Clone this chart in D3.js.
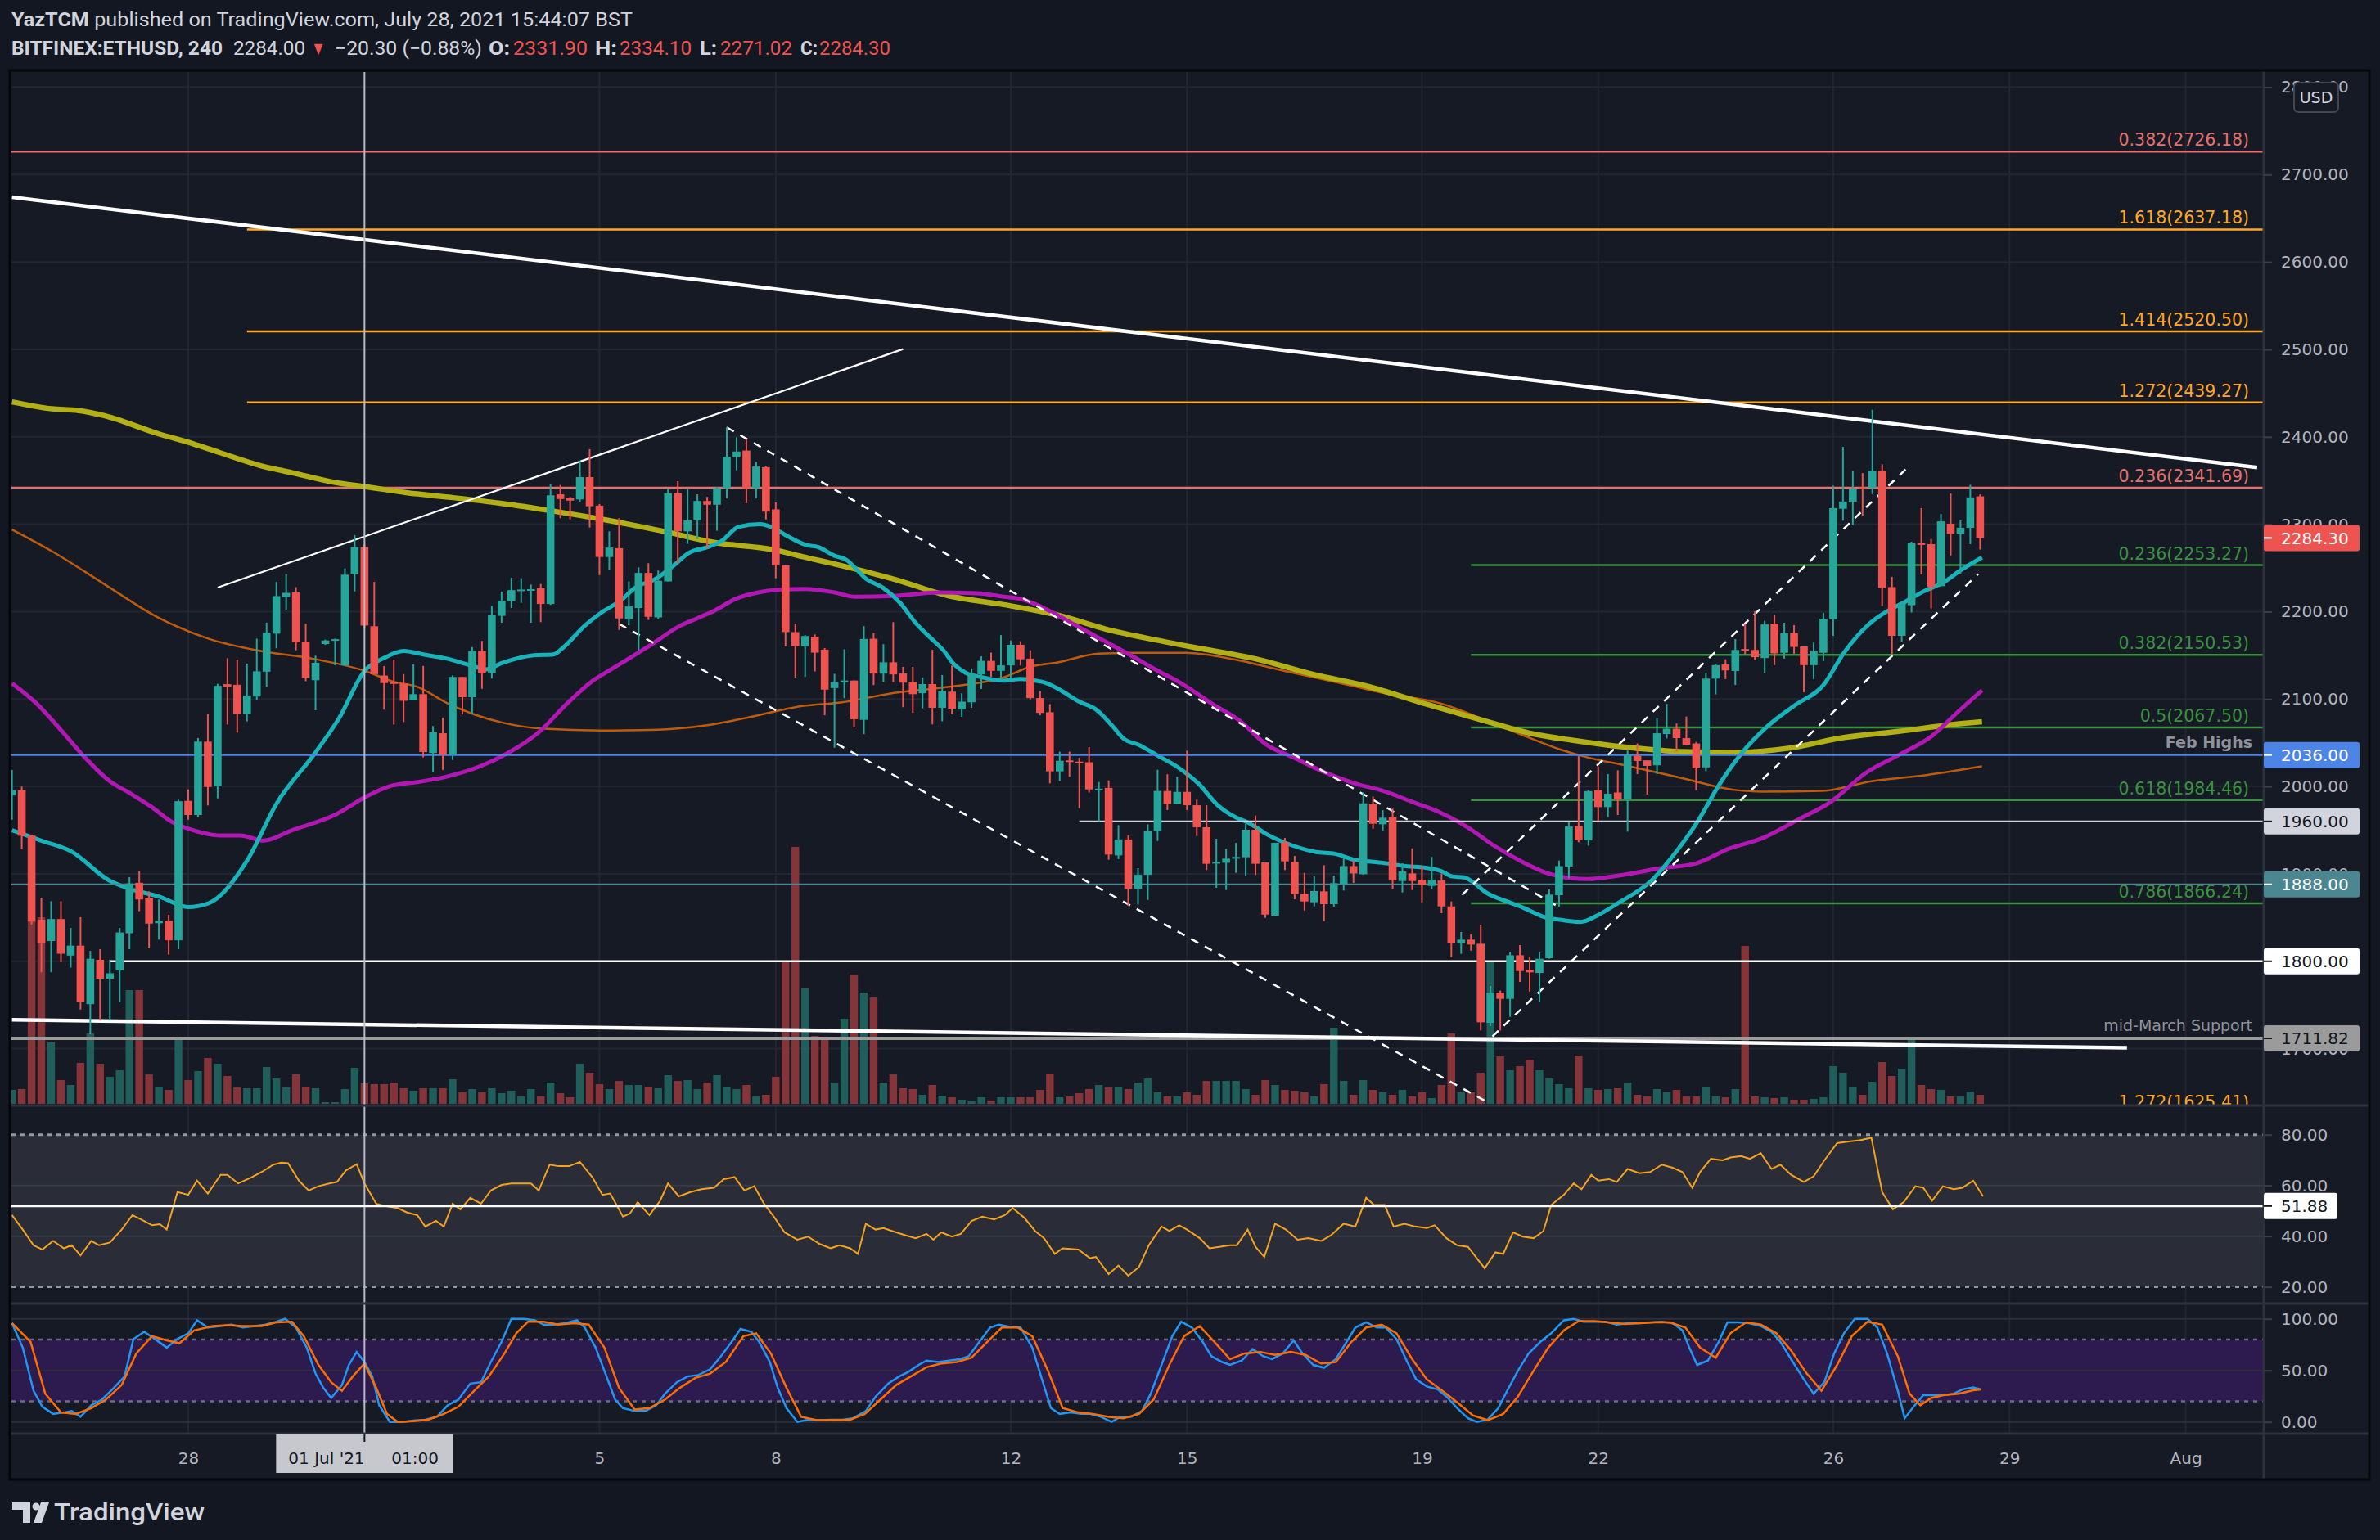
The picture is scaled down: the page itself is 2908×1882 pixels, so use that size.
<!DOCTYPE html>
<html>
<head>
<meta charset="utf-8">
<script src="https://cdn.jsdelivr.net/npm/d3@7"></script>
<style>
  body { margin: 0; background: #131722; }
  svg { display: block; }
</style>
</head>
<body>
<svg id="chart"></svg>
<script>
// ---- data ----

// 4h candles from 25 Jun 2021, [open, high, low, close]
const candles = [
[1989.6,2018.9,1962,1995.7],[1995.7,1999.8,1928.3,1943.7],[1943.7,1945,1842,1845.1],[1847.5,1872.7,1787.4,1820.7],
[1823.2,1868.6,1787.4,1848.3],[1848.3,1868.6,1798.8,1808.6],[1806.5,1838.2,1792.7,1817.9],[1817.9,1850.4,1744.8,1753.7],
[1750.9,1811.8,1716.4,1802.9],[1801.7,1813.8,1732.6,1780.1],[1780.1,1801.7,1732.6,1786.2],[1789.5,1838.2,1753,1832.9],
[1832.1,1896.3,1813.8,1889.0],[1889.8,1903.2,1857.3,1870.7],[1872.7,1880.0,1815.0,1843.1],[1843.5,1870.7,1824.8,1846.3],
[1846.3,1853.2,1807.7,1824.0],[1824.0,1984.8,1813.8,1983.1],[1983.5,1996.5,1962.0,1967.3],[1967.3,2055.4,1965.3,2051.3],
[2051.3,2083.0,1978.3,1999.4],[2000.2,2117.5,1986.4,2115.1],[2117,2146.7,2070.8,2114],[2116.3,2144.7,2061.5,2083.0],
[2083.0,2140.6,2074.5,2104.1],[2102.9,2169.1,2098.8,2131.7],[2131.3,2187.4,2114.3,2176.0],[2174.8,2234.0,2158.1,2217.8],
[2216.6,2243.0,2202.4,2221.5],[2221.9,2228.0,2155.7,2165.0],[2165.8,2186.1,2120.4,2124.4],[2121.6,2149.6,2087.1,2141.5],
[2163,2168,2162,2167],[2167.8,2169.1,2138.6,2168.5],[2138.6,2249.5,2137.8,2242.2],[2243.4,2287.6,2223.1,2273.8],
[2273.8,2276.7,2181.3,2184.1],[2183.3,2234.0,2128.5,2128.5],[2126.9,2137.8,2087.9,2118.3],[2119.2,2144.7,2070.8,2118.0],
[2117.5,2128.5,2073.7,2098.0],[2098.5,2139.7,2098.5,2105.6],[2105.6,2137.9,2033.3,2039.4],[2038.3,2069.1,2016.1,2062.0],
[2060.9,2078.8,2018.9,2036.5],[2036.5,2127.1,2030.4,2125.3],[2125.3,2125.3,2082.4,2102.1],[2102.1,2159.4,2082.4,2155.0],
[2155.0,2166.5,2111.7,2129.6],[2129.6,2206.6,2123.5,2195.9],[2195.2,2222.8,2187.3,2212.4],[2212.0,2238.9,2204.1,2224.6],
[2224.6,2238.2,2210.2,2225.3],[2225.3,2231.0,2187.3,2225.7],[2226.7,2231.7,2188.0,2208.8],[2208.8,2345.6,2207.7,2333.1],
[2334.2,2344.9,2306.9,2328.8],[2330.2,2331.3,2305.5,2327.0],[2328.4,2372.5,2325.9,2353.9],[2353.9,2385.8,2296.2,2320.6],
[2321.3,2323.1,2241.8,2262.5],[2262.5,2291.9,2248.2,2273.3],[2272.6,2306.9,2179.1,2192.3],[2191.6,2234.6,2184.4,2205.9],
[2204.1,2250.7,2155.8,2244.3],[2244.3,2255.4,2190.5,2194.1],[2193.4,2247.1,2191.6,2235.3],[2234.6,2340.3,2234.6,2335.6],
[2335.6,2349.2,2255.4,2291.9],[2291.9,2340.3,2277.6,2304.4],[2304.4,2334.2,2282.9,2326.6],[2326.6,2331.3,2272.2,2322.3],
[2322.3,2342.8,2292.6,2341.3],[2341.3,2410.8,2329.5,2377.2],[2377.2,2399.4,2361.8,2383.2],[2384.3,2397.6,2324.1,2341.3],
[2341.3,2371.4,2329.5,2366.0],[2365.3,2366.4,2305.5,2314.5],[2317.0,2324.9,2238.2,2253.2],[2253.2,2253.2,2160.1,2176.6],
[2176.6,2186.2,2124.6,2160.4],[2160.4,2173.2,2125.4,2172.1],[2171.4,2173.9,2131.6,2153.1],[2156.5,2158.3,2081.4,2110.8],
[2112.6,2128.8,2044.3,2119.5],[2119.5,2156.9,2101.1,2121.2],[2121.2,2121.2,2067.5,2076.9],[2076.2,2183.5,2059.9,2168.7],
[2169.0,2175.6,2116.0,2129.2],[2129.2,2162.8,2119.5,2142.0],[2142.0,2188.0,2119.5,2128.2],[2129.2,2136.8,2090.7,2118.8],
[2119.5,2136.8,2084.2,2105.6],[2106.7,2124.7,2089.4,2117.1],[2117.1,2156.5,2071.0,2090.0],[2090.0,2127.4,2074.5,2109.1],
[2108.4,2138.5,2082.4,2089.0],[2088.3,2106.7,2079.7,2097.0],[2096.3,2135.1,2090.0,2128.8],[2128.2,2148.9,2111.5,2143.7],
[2143.7,2153.1,2125.4,2132.3],[2132.3,2173.2,2121.9,2138.5],[2138.5,2166.9,2124.7,2162.1],[2162.1,2166.2,2138.5,2145.5],
[2146.2,2155.8,2099.7,2101.1],[2101.1,2109.1,2081.4,2084.2],[2084.9,2094.2,2003.5,2017.3],[2017.3,2039.8,2006.2,2029.4],
[2029.8,2039.8,2011.1,2028.0],[2028.4,2032.9,1975.1,2027.0],[2027.7,2045.0,1993.1,1996.6],[1997.3,2005.2,1960.2,1997.5],
[1998.3,2006.9,1916.2,1922.1],[1921.1,1955.7,1916.9,1939.4],[1939.4,1943.9,1863.2,1883.0],[1883.0,1906.5,1865.0,1898.9],
[1898.9,1956.7,1870.2,1948.8],[1948.8,2019.1,1937.7,1994.8],[1994.8,2013.9,1973.0,1979.9],[1979.9,2011.1,1979.9,1993.8],
[1993.8,2040.9,1973.0,1978.5],[1978.5,1984.8,1943.3,1953.3],[1953.3,1978.5,1904.3,1911.5],[1912.1,1940.2,1884.0,1913.6],
[1912.7,1928.6,1881.5,1917.4],[1917.4,1935.5,1901.2,1919.3],[1919.0,1957.3,1897.4,1950.5],[1950.5,1966.7,1898.7,1911.5],
[1913.0,1913.0,1849.7,1853.4],[1852.2,1935.5,1851.2,1935.5],[1936.1,1941.1,1904.3,1914.3],[1913.6,1920.5,1870.9,1876.8],
[1877.1,1901.2,1858.1,1868.4],[1867.5,1897.1,1862.8,1880.3],[1880.0,1909.9,1845.9,1865.3],[1865.3,1898.0,1862.2,1889.3],
[1888.7,1918.3,1880.9,1908.9],[1908.9,1915.2,1889.6,1900.5],[1899.6,1993.2,1899.0,1980.7],[1980.1,1988.5,1951.7,1957.3],
[1956.7,1972.9,1949.5,1964.2],[1965.1,1974.5,1882.4,1892.4],[1891.8,1912.1,1878.7,1902.7],[1900.5,1929.2,1881.5,1891.8],
[1893.4,1908.9,1867.5,1887.1],[1886.2,1919.3,1882.4,1893.4],[1892.4,1900.5,1855.0,1862.8],[1862.8,1868.4,1804.4,1820.7],
[1820.7,1833.5,1808.5,1824.7],[1824.7,1831.0,1812.2,1819.1],[1820.0,1841.9,1720.8,1730.2],[1729.6,1771.7,1725.8,1763.9],
[1763.9,1766.4,1720.8,1757.0],[1757.0,1810.7,1736.4,1806.9],[1806.9,1818.5,1776.4,1788.8],[1790.4,1805.1,1765.4,1787.3],
[1786.6,1810.1,1753.9,1802.9],[1803.5,1882.4,1802.9,1876.2],[1875.6,1915.2,1862.2,1908.9],[1908.3,1958.9,1894.9,1954.2],
[1954.8,2034.7,1936.1,1938.6],[1938.3,1995.7,1932.2,1994.7],[1995.7,2022.5,1960.6,1976.4],[1976.4,2014.1,1965.0,1991.7],
[1993.1,2018.5,1967.3,1985.1],[1985.1,2042.6,1948.3,2035.9],[2035.2,2049.2,2014.1,2029.2],[2029.9,2029.9,1990.7,2023.5],
[2024.2,2078.3,2014.1,2060.9],[2060.0,2094.4,2055.0,2066.0],[2066.0,2072.0,2039.9,2055.3],[2055.3,2080.0,2046.9,2047.6],
[2049.2,2050.9,1995.7,2020.8],[2021.8,2130.1,2017.5,2123.4],[2123.4,2139.5,2105.4,2138.8],[2139.5,2145.5,2122.8,2132.8],
[2132.1,2168.6,2116.1,2156.2],[2157.2,2186.3,2151.2,2156.2],[2156.2,2200.3,2144.5,2147.9],[2146.9,2189.6,2129.5,2185.3],
[2186.3,2196.3,2138.8,2152.2],[2152.9,2187.3,2146.2,2175.3],[2175.6,2184.6,2151.9,2159.6],[2160.2,2160.2,2107.7,2138.8],
[2138.8,2164.6,2122.8,2154.5],[2152.9,2198.7,2143.5,2192.0],[2191.3,2344.1,2172.3,2318.4],[2317.7,2388.6,2304.0,2326.0],
[2325.7,2360.8,2299.0,2340.1],[2342.4,2358.5,2309.3,2341.4],[2341.7,2431.0,2334.4,2361.1],[2361.1,2368.5,2206.4,2227.1],
[2228.1,2239.8,2151.2,2172.3],[2172.3,2211.4,2165.2,2209.0],[2207.4,2280.0,2199.0,2278.2],[2278.2,2318.4,2242.5,2277.2],
[2277.2,2283.2,2203.7,2228.1],[2229.1,2311.7,2229.1,2303.3],[2300.6,2335.1,2264.2,2289.0],[2289.0,2304.3,2243.1,2296.0],
[2295.9,2345.1,2277.2,2330.7],[2331.9,2334.1,2271.02,2284.3]
];

// volume per candle (relative units)
const volumes = [
17,18,222,228,75,29,23,50,86,49,33,41,139,139,36,21,17,78,29,40,
56,49,34,20,19,19,45,31,20,36,21,19,2,2,18,44,25,24,24,26,
19,16,19,19,19,30,14,18,14,19,13,16,9,18,9,26,13,8,49,38,
24,18,28,23,23,21,19,35,28,29,18,26,35,21,18,23,9,11,33,174,
314,141,83,78,26,104,158,136,130,26,36,19,18,11,23,10,8,5,4,8,
4,8,8,8,8,17,37,8,9,13,18,23,20,21,18,26,31,14,9,9,
14,11,28,28,28,28,18,11,29,23,17,16,14,9,24,93,28,11,29,17,
14,11,17,9,14,7,23,86,14,14,38,173,58,41,46,54,41,31,24,19,
59,19,17,18,19,26,11,9,18,14,17,9,9,21,9,8,18,193,9,8,
7,8,5,5,6,8,46,38,21,11,27,51,34,43,78,23,18,17,9,9,15,11
];

// moving averages, [candle index, price]
const maFast = [[0,1950],[3,1938],[6,1926],[10,1892],[12,1883],[15,1874],[18,1862],[20,1866],[24,1915],[27,1980],
[31,2039],[33.4,2078],[36,2132],[38,2147],[40,2155],[42,2151],[44.5,2146],[46.7,2139],[48.4,2134],[50,2141],[53.3,2150],
[55.3,2151],[56.3,2159],[58.5,2184],[60.2,2199],[62.2,2213],[63.6,2227],[65.8,2238],[67.5,2252],[69.1,2267],[71.1,2274],
[72.5,2281],[74.2,2297],[76.4,2300],[77.5,2297],[79.1,2287],[81.2,2276],[82.3,2274],[84,2264],[85.1,2260],[87.3,2237],
[89,2227],[90.7,2210],[92.3,2187],[94,2168],[95.1,2156],[96.2,2140],[97.4,2130],[99,2125],[101.3,2121],[103,2123],
[104,2122],[105.7,2118],[106.8,2112],[109,2097],[110.7,2088],[112.4,2069],[113.5,2055],[115.2,2047],[116.9,2036],
[119.2,2021],[121.2,2003],[123.1,1979],[125.1,1964],[126.2,1959],[128.2,1945],[130.9,1932],[133.2,1925],[135.1,1923],
[137.1,1916],[138.8,1914],[140.4,1912],[142.1,1909],[144.4,1907],[146,1903],[147.1,1897],[148.3,1896],[149.4,1889],
[150.5,1879],[152.8,1868],[154.4,1861],[156.4,1851],[158.4,1847],[160.2,1845],[162,1853],[164.1,1867],[167.4,1892],
[170,1926],[172.1,1959],[174.3,2001],[176.5,2036],[179.3,2069],[182.1,2093],[185,2116],[187.1,2153],[189.9,2188],
[191.6,2201],[193.3,2211],[195.2,2223],[197.2,2233],[199.1,2248],[201.2,2262]];

const maMid = [[0,2118],[2.5,2095],[5.2,2062],[7.3,2035],[10,2006],[12.1,1992],[14.2,1977],[16.4,1959],[18.5,1950],
[21.2,1944],[23.3,1944],[25.7,1938],[28.6,1950],[32.9,1967],[36.1,1988],[38.5,2000],[41.4,2005],[44.3,2011],[47.8,2023],
[50.6,2038],[53.9,2063],[56.7,2095],[59.2,2120],[61.2,2134],[63.4,2149],[65.4,2163],[68.1,2183],[70.1,2193],[71.7,2201],
[74,2215],[76.2,2222],[78.4,2225],[81,2226],[84,2222],[86.1,2217],[90.1,2218],[94.6,2222],[98.5,2221],[101.3,2217],
[103.2,2214],[105.4,2204],[108.2,2187],[111.3,2168],[114.1,2151],[116.9,2133],[119.1,2120],[120.8,2108],[122.5,2095],
[125.3,2076],[128.1,2048],[130.9,2033],[133.9,2017],[137,2004],[140,1995],[143.1,1982],[145.9,1970],[148.7,1953],
[151.4,1932],[154.2,1914],[157,1900],[159.2,1895],[160.9,1894],[164.1,1898],[168.1,1906],[172,1912],[175.4,1929],
[178.8,1941],[182.4,1962],[185.7,1982],[189.4,2016],[192.7,2036],[196.1,2058],[198.8,2086],[201.2,2110]];

const maSlow = [[0,2294],[4.1,2269],[9.5,2231],[14.8,2194],[20.1,2169],[25.4,2155],[30.8,2146],[36.1,2132],[38.9,2120],
[41.4,2114],[44.5,2095],[47.3,2082],[50.1,2073],[54.3,2066],[60.1,2064],[66,2065],[71,2070],[75.2,2079],[78,2086],
[80.7,2092],[84.6,2096],[90.1,2107],[95.7,2114],[101.3,2125],[104,2137],[106.8,2142],[111,2152],[115.2,2153],[119.9,2153],
[125,2145],[130,2132],[135,2120],[140,2107],[145.9,2095],[149.8,2079],[154,2060],[158.2,2042],[161,2033],[164.8,2024],
[170.4,2010],[176,1996],[178.8,1994],[184.9,1995],[189.9,2006],[195.5,2013],[201.2,2023]];

const maLong = [[0,2440],[4.1,2432],[6.8,2430],[9.5,2424],[14.8,2404],[18.5,2392],[21.2,2382],[25.4,2367],[28.6,2359],
[32.9,2348],[36.1,2343],[40.4,2336],[44.6,2331],[49.9,2324],[55.3,2315],[60.6,2305],[66.5,2292],[71.8,2279],[77.7,2271],
[80.7,2263],[84.6,2253],[90.1,2237],[95.7,2218],[101.3,2208],[106.8,2196],[112.4,2178],[118,2165],[120.8,2159],[127,2146],
[133,2128],[138.3,2115],[144.2,2095],[149.8,2077],[155.4,2060],[159.3,2053],[164.8,2045],[170.4,2040],[176,2039],
[181.6,2044],[187.1,2056],[192.7,2063],[198.3,2071],[201.2,2074]];

// RSI and Stoch RSI, [candle index, value]
const rsi = [[0.0,48.3],[1.1,42.6],[2.2,36.4],[3.1,34.7],[4.2,38.1],[5.3,35.2],[6.1,36.4],[7.0,32.4],[8.1,38.1],[8.9,36.4],
[10.0,37.5],[11.2,42.6],[12.3,48.3],[13.5,46.0],[14.3,44.3],[15.1,44.7],[15.8,42.6],[16.9,57.4],[18.0,56.3],[18.9,61.9],
[20.0,56.8],[21.3,64.2],[22.0,64.2],[23.1,60.8],[24.4,63.1],[25.5,65.3],[26.7,68.2],[27.5,69.0],[28.2,68.8],[29.3,61.9],
[30.3,58.0],[31.3,59.7],[32.4,60.8],[33.2,61.4],[34.1,65.9],[35.2,68.4],[36.0,60.8],[37.2,52.8],[38.3,51.7],[39.4,51.1],
[40.3,49.4],[41.4,48.3],[42.2,43.8],[43.3,46.0],[44.1,43.8],[45.0,52.8],[45.8,50.6],[46.8,55.1],[47.9,52.8],[48.9,58.0],
[50.0,60.2],[51.0,60.8],[52.3,60.8],[53.0,60.8],[53.8,58.0],[54.9,68.2],[55.8,67.6],[56.9,67.6],[58.0,69.3],[59.3,63.1],
[60.3,56.3],[61.1,56.8],[62.4,47.7],[63.1,48.9],[63.9,53.4],[65.1,48.3],[66.2,54.0],[67.0,60.8],[68.1,55.7],[69.3,57.4],
[70.4,58.5],[71.7,59.1],[72.7,62.5],[73.8,63.3],[74.8,58.0],[75.8,59.7],[76.8,52.8],[77.9,47.2],[78.9,41.5],[80.2,38.6],
[81.3,39.8],[82.5,36.9],[83.6,35.2],[84.5,36.4],[85.6,35.2],[86.4,33.0],[87.2,44.9],[88.2,42.6],[89.0,43.2],[90.3,41.5],
[91.3,40.3],[92.3,39.2],[93.4,40.9],[94.1,38.6],[94.9,41.5],[96.0,39.8],[96.9,40.9],[98.0,46.0],[99.1,47.7],[100.3,46.6],
[101.4,48.3],[102.2,51.1],[103.4,47.2],[104.5,42.0],[105.4,39.2],[106.5,33.0],[107.3,35.2],[108.9,34.7],[110.1,31.3],
[110.7,31.8],[112.0,25.0],[113.0,28.4],[114.0,24.4],[115.1,27.8],[116.1,36.4],[117.4,43.8],[118.2,42.0],[119.2,44.3],
[120.0,42.6],[121.3,39.2],[122.3,35.2],[123.3,35.8],[124.4,36.4],[125.1,36.4],[126.2,42.6],[127.0,35.8],[127.9,31.8],
[129.0,44.9],[130.1,42.6],[131.3,38.6],[132.4,39.2],[133.7,38.1],[134.7,40.3],[136.0,44.9],[137.2,43.8],[138.3,55.1],
[139.1,52.3],[140.2,52.3],[141.1,43.8],[142.2,44.9],[143.3,43.8],[144.5,43.2],[145.3,44.3],[146.5,39.2],[147.6,36.4],
[148.7,35.8],[149.6,31.3],[150.4,27.3],[151.5,33.6],[152.3,33.0],[153.3,41.5],[154.3,39.8],[155.4,39.2],[156.4,42.0],
[157.2,52.3],[158.5,56.3],[159.5,60.8],[160.3,58.5],[161.3,64.2],[162.0,61.9],[163.1,62.5],[163.9,61.4],[165.0,66.5],
[166.2,64.8],[167.3,65.3],[168.5,68.2],[169.6,67.0],[170.6,65.3],[171.6,59.1],[172.4,65.3],[173.5,70.5],[174.7,69.9],
[175.5,71.0],[176.6,71.6],[177.5,70.5],[178.6,72.7],[179.7,66.5],[180.6,68.2],[181.7,64.2],[183.0,61.4],[184.0,63.6],
[185.1,69.9],[186.4,76.7],[187.6,77.3],[188.7,77.8],[189.9,78.8],[191.0,57.4],[192.1,50.6],[193.2,53.4],[194.4,59.7],
[195.2,59.1],[196.1,54.0],[197.2,59.7],[198.3,58.5],[199.2,59.1],[200.3,61.9],[201.3,55.7]];

const stochK = [[0.0,95.8],[1.1,72.1],[2.2,30.2],[3.1,14.8],[4.2,7.8],[5.3,9.2],[6.1,10.6],[7.0,5.0],[8.1,16.2],[9.2,21.8],
[10.4,33.0],[11.5,44.1],[12.4,80.4],[13.5,87.4],[14.6,80.4],[15.8,72.1],[16.9,80.4],[18.0,86.0],[18.9,98.6],[20.0,91.6],
[21.3,93.0],[22.4,94.4],[23.6,91.6],[24.8,93.0],[25.9,94.4],[27.0,97.2],[27.9,100],[29.0,91.6],[30.1,72.1],[31.0,47.0],
[31.8,33.0],[32.6,23.2],[33.7,35.8],[34.4,55.3],[35.2,67.9],[36.0,58.1],[36.8,44.1],[37.5,16.2],[38.6,0],[39.9,0],
[41.0,1.4],[42.2,2.2],[43.4,5.0],[44.5,16.2],[45.6,21.8],[46.8,37.2],[47.9,38.5],[48.9,58.1],[50.0,77.7],[51.0,100],
[52.3,100],[53.4,98.6],[54.3,94.4],[55.4,94.4],[56.5,95.8],[57.7,98.6],[58.5,91.6],[59.6,72.1],[60.5,49.7],[61.6,21.8],
[62.4,13.4],[63.6,10.6],[64.7,10.6],[65.8,16.2],[66.7,27.4],[67.9,38.5],[69.0,44.1],[70.1,45.5],[71.3,51.1],[72.4,63.7],
[73.5,77.7],[74.4,90.2],[75.5,87.4],[76.3,77.7],[77.4,58.1],[78.2,33.0],[79.1,13.4],[80.2,0],[81.3,2.2],[82.5,1.7],
[83.6,2.2],[84.8,2.2],[85.9,3.6],[87.2,10.6],[88.2,24.6],[89.5,37.2],[90.6,44.1],[91.5,48.3],[92.6,55.3],[93.4,59.5],
[94.6,58.1],[95.7,59.5],[96.8,60.9],[97.7,63.7],[98.8,77.7],[99.9,91.6],[100.8,94.4],[101.9,92.2],[103.0,91.6],[104.2,72.1],
[105.1,44.1],[106.1,13.4],[107.0,7.8],[108.1,9.2],[109.2,7.8],[110.1,7.8],[111.2,5.0],[112.3,0],[113.2,5.0],[114.3,5.0],
[115.4,10.6],[116.3,27.4],[117.4,55.3],[118.5,83.2],[119.4,97.2],[120.5,91.6],[121.6,77.7],[122.5,63.7],[123.6,58.1],
[124.4,55.3],[125.6,59.5],[126.7,70.7],[127.8,63.7],[128.7,60.9],[129.8,66.5],[130.9,79.1],[131.8,66.5],[132.9,55.3],
[134.0,52.5],[135.2,60.9],[136.3,77.7],[137.2,91.6],[138.3,96.6],[139.4,91.6],[140.3,91.6],[141.4,80.4],[142.5,58.1],
[143.4,41.3],[144.5,34.4],[145.6,31.6],[146.5,24.6],[147.6,13.4],[148.7,3.6],[149.6,0],[150.7,2.2],[151.8,13.4],[152.7,30.2],
[153.8,49.7],[154.9,66.5],[156.1,77.7],[157.2,86.0],[158.5,98.6],[159.5,100],[160.5,97.2],[161.6,97.2],[162.7,97.2],
[163.9,94.4],[165.0,95.8],[166.2,95.8],[167.3,96.6],[168.5,97.2],[169.6,95.8],[170.6,88.8],[171.3,72.1],[172.1,55.3],
[173.2,59.5],[174.3,77.7],[175.2,96.6],[176.3,96.6],[177.4,95.8],[178.6,93.0],[179.7,87.4],[180.6,77.7],[181.7,60.9],
[183.0,41.3],[184.0,27.4],[185.1,38.5],[186.1,66.5],[187.1,86.0],[188.2,100],[189.5,100],[190.5,91.6],[191.5,66.5],
[192.6,30.2],[193.3,3.6],[194.1,13.4],[195.2,26.0],[196.1,26.0],[197.2,26.0],[198.3,27.4],[199.2,31.6],[200.3,33.5],[201.1,31.6]];

const stochD = [[0.0,95.8],[1.9,77.7],[3.4,27.4],[5.0,9.2],[6.5,7.8],[8.1,13.4],[9.6,21.8],[11.2,35.8],[12.7,66.5],[14.3,83.2],
[15.8,79.1],[17.1,76.3],[18.6,88.8],[20.5,93.0],[22.0,93.9],[23.6,93.0],[25.5,93.0],[27.0,96.6],[28.6,97.2],[29.8,83.2],
[31.3,55.3],[32.6,38.5],[33.7,30.2],[34.8,44.1],[36.0,56.7],[37.2,33.0],[38.3,7.8],[39.4,0],[41.0,0.8],[42.5,2.2],[44.1,7.8],
[45.6,14.8],[47.2,30.2],[48.7,44.1],[50.3,66.5],[51.5,86.0],[52.7,97.2],[54.3,97.2],[55.8,94.4],[57.4,95.8],[58.9,94.4],
[60.5,72.1],[62.0,33.0],[63.6,12.0],[65.1,13.4],[66.7,21.8],[68.2,33.0],[69.8,42.7],[71.3,46.9],[72.9,58.1],[74.7,83.2],
[76.0,86.0],[77.5,66.5],[79.1,33.0],[80.6,5.0],[82.2,1.7],[84.1,1.7],[85.6,2.2],[87.1,7.8],[88.7,21.8],[90.3,35.8],[91.8,44.1],
[93.4,53.1],[94.9,56.7],[96.5,58.1],[98.0,62.3],[99.6,77.7],[101.1,91.6],[102.7,91.6],[104.2,83.2],[105.8,49.7],[107.3,13.4],
[108.9,9.2],[110.4,7.8],[112.0,5.0],[113.5,3.6],[115.1,7.8],[116.6,21.8],[118.2,55.3],[119.7,83.2],[121.3,93.0],[122.8,77.7],
[124.4,60.9],[125.9,66.5],[127.5,67.9],[129.0,65.1],[130.6,67.9],[132.1,65.1],[133.7,56.7],[135.2,58.1],[136.8,77.7],
[138.3,91.6],[139.9,94.4],[141.4,86.0],[143.0,60.9],[144.5,41.3],[146.1,30.2],[147.6,19.0],[149.2,6.4],[150.7,1.7],
[152.3,7.8],[153.8,24.6],[155.4,49.7],[156.9,72.1],[158.5,88.8],[160.0,97.8],[161.6,97.8],[163.1,96.6],[164.7,95.0],
[166.2,95.8],[167.8,96.6],[169.3,96.6],[170.9,91.6],[172.4,72.1],[174.0,62.3],[175.5,86.0],[177.1,96.6],[178.6,94.4],
[180.2,86.0],[181.7,69.3],[183.3,46.9],[184.8,30.2],[186.4,55.3],[187.9,83.2],[189.5,97.2],[191.0,94.4],[192.6,63.7],
[193.8,27.4],[194.9,16.2],[196.0,23.2],[197.2,26.0],[198.8,27.4],[200.3,30.7],[201.1,31.6]];

// drawn levels and tools
const fibRed = [{ratio: "0.382", price: 2726.18}, {ratio: "0.236", price: 2341.69}];
const fibOrange = [{ratio: "1.618", price: 2637.18}, {ratio: "1.414", price: 2520.50}, {ratio: "1.272", price: 2439.27}, {ratio: "1.272", price: 1625.41}];
const fibGreen = [{ratio: "0.236", price: 2253.27}, {ratio: "0.382", price: 2150.53}, {ratio: "0.5", price: 2067.50}, {ratio: "0.618", price: 1984.46}, {ratio: "0.786", price: 1866.24}];
const fibOrangeFrom = 24, fibGreenFrom = 149;

const levels = [
  {key: "feb", price: 2036.00, from: 0, note: "Feb Highs"},
  {key: "l1960", price: 1960.00, from: 111},
  {key: "l1888", price: 1888.00, from: 0},
  {key: "l1800", price: 1800.00, from: 12},
  {key: "march", price: 1711.82, from: 0, note: "mid-March Support"}
];

const trendSolid = [
  {key: "desc", a: [0, 2674], b: [229.3, 2365]},
  {key: "asc", a: [21, 2227.5], b: [91, 2500.3]},
  {key: "base", a: [0, 1733], b: [216, 1701]}
];
const trendDashed = [
  {a: [73, 2410.8], b: [158, 1862]},
  {a: [62, 2186], b: [150.5, 1640]},
  {a: [148.1, 1876], b: [193.7, 2366]},
  {a: [151.2, 1714], b: [200.8, 2243]}
];

const priceTicks = d3.range(1700, 2801, 100);
const rsiTicks = [80, 60, 40, 20];
const stochTicks = [100, 50, 0];
// the 1 Jul label sits under the crosshair time label, so it has no text
const dayTicks = [
  ["2021-06-28", "28"], ["2021-07-01", ""], ["2021-07-05", "5"], ["2021-07-08", "8"], ["2021-07-12", "12"],
  ["2021-07-15", "15"], ["2021-07-19", "19"], ["2021-07-22", "22"], ["2021-07-26", "26"], ["2021-07-29", "29"], ["2021-08-01", "Aug"]
];
const lastPrice = 2284.30;
const crossIndex = 36, crossRsi = 51.88;

// ---- layout ----
const W = 2908, H = 1882;
const plotL = 14, plotR = 2765, axisX = 2766;
const pMain = {top: 88, bottom: 1350}, pRsi = {top: 1352, bottom: 1592}, pStoch = {top: 1594, bottom: 1751};
const timeTop = 1753, frameBottom = 1808;

const C = {
  bg: "#131722", pane: "#161a25", grid: "#222632", text: "#b2b5be", light: "#d1d4dc",
  up: "#26a69a", down: "#ef5350", upVol: "#1f5e5a", downVol: "#853539",
  red: "#e4716f", orange: "#ffa726", green: "#3a9140",
  maFast: "#18b3ba", maMid: "#b117b3", maSlow: "#bf5b0e", maLong: "#b3b017",
  rsi: "#f5a21f", k: "#2196f3", d: "#ff6d00"
};
const levelStyle = {
  feb: {line: "#4d85e6", tag: "#4d85e6", txt: "#ffffff", w: 2},
  l1960: {line: "#d1d4dc", tag: "#d1d4dc", txt: "#131722", w: 2},
  l1888: {line: "#4a8790", tag: "#4a8790", txt: "#ffffff", w: 2},
  l1800: {line: "#ffffff", tag: "#ffffff", txt: "#131722", w: 2.5},
  march: {line: "#9b9b9b", tag: "#9b9b9b", txt: "#131722", w: 4}
};

const svg = d3.select("#chart").attr("width", W).attr("height", H)
  .style("font-family", "'DejaVu Sans', sans-serif");

const t0 = Date.UTC(2021, 5, 25);
const tAt = i => new Date(t0 + i * 4 * 3600e3);
const x = d3.scaleUtc().domain([new Date(Date.UTC(2021, 5, 28)), new Date(Date.UTC(2021, 7, 1))]).range([230, 2670.6]);
const xi = i => x(tAt(i));
const y = d3.scaleLinear().domain([2700, 1700]).range([213.3, 1281.6]);
const yRsi = d3.scaleLinear().domain([20, 80]).range([1572.6, 1386.7]);
const yStoch = d3.scaleLinear().domain([0, 100]).range([1737.7, 1611.7]);
const yVol = d3.scaleLinear().domain([0, 400]).range([1349, 949]);

svg.append("rect").attr("width", W).attr("height", H).attr("fill", C.bg);
svg.append("rect").attr("x", 12).attr("y", 86).attr("width", 2883).attr("height", frameBottom - 86).attr("fill", C.pane);

const defs = svg.append("defs");
function clip(id, p) {
  defs.append("clipPath").attr("id", id).append("rect")
    .attr("x", plotL).attr("y", p.top).attr("width", plotR - plotL).attr("height", p.bottom - p.top);
  return `url(#${id})`;
}
const clipMain = clip("cm", pMain), clipRsi = clip("cr", pRsi), clipStoch = clip("cs", pStoch);

// ---- grid ----
const grid = svg.append("g").attr("stroke", C.grid).attr("stroke-width", 2);
const tickDates = dayTicks.map(d => new Date(d[0] + "T00:00:00Z"));
grid.selectAll("line.v").data(tickDates).join("line")
  .attr("x1", d => x(d)).attr("x2", d => x(d)).attr("y1", pMain.top).attr("y2", pStoch.bottom);
grid.selectAll("line.h").data(priceTicks).join("line")
  .attr("x1", plotL).attr("x2", plotR).attr("y1", d => y(d)).attr("y2", d => y(d));

// ---- RSI pane ----
const gR = svg.append("g").attr("clip-path", clipRsi);
gR.append("rect").attr("x", plotL).attr("width", plotR - plotL)
  .attr("y", yRsi(80)).attr("height", yRsi(20) - yRsi(80)).attr("fill", "#2a2d38");
gR.selectAll("line.g").data([60, 40]).join("line")
  .attr("x1", plotL).attr("x2", plotR).attr("y1", d => yRsi(d)).attr("y2", d => yRsi(d))
  .attr("stroke", "#363a46").attr("stroke-width", 2);
gR.selectAll("line.b").data([80, 20]).join("line")
  .attr("x1", plotL).attr("x2", plotR).attr("y1", d => yRsi(d)).attr("y2", d => yRsi(d))
  .attr("stroke", "#9598a1").attr("stroke-width", 3).attr("stroke-dasharray", "5 6");
gR.append("path").datum(rsi)
  .attr("d", d3.line().x(d => xi(d[0])).y(d => yRsi(d[1])))
  .attr("fill", "none").attr("stroke", C.rsi).attr("stroke-width", 2);

// ---- Stoch RSI pane ----
const gS = svg.append("g").attr("clip-path", clipStoch);
gS.append("rect").attr("x", plotL).attr("width", plotR - plotL)
  .attr("y", yStoch(80)).attr("height", yStoch(20) - yStoch(80)).attr("fill", "#2d1a4f");
gS.selectAll("line.g").data([100, 50, 0]).join("line")
  .attr("x1", plotL).attr("x2", plotR).attr("y1", d => yStoch(d)).attr("y2", d => yStoch(d))
  .attr("stroke", "#2c2f3b").attr("stroke-width", 2);
gS.selectAll("line.b").data([80, 20]).join("line")
  .attr("x1", plotL).attr("x2", plotR).attr("y1", d => yStoch(d)).attr("y2", d => yStoch(d))
  .attr("stroke", "#6f6a85").attr("stroke-width", 2.5).attr("stroke-dasharray", "5 6");
const stLine = d3.line().x(d => xi(d[0])).y(d => yStoch(d[1]));
gS.append("path").datum(stochK).attr("d", stLine).attr("fill", "none").attr("stroke", C.k).attr("stroke-width", 2.5);
gS.append("path").datum(stochD).attr("d", stLine).attr("fill", "none").attr("stroke", C.d).attr("stroke-width", 2.5);

// ---- main pane ----
const gM = svg.append("g").attr("clip-path", clipMain);

// volume
const bw = 9.4;
gM.append("g").selectAll("rect").data(volumes).join("rect")
  .attr("x", (d, i) => xi(i) - bw / 2).attr("width", bw)
  .attr("y", d => yVol(d)).attr("height", d => yVol(0) - yVol(d))
  .attr("fill", (d, i) => candles[i][3] >= candles[i][0] ? C.upVol : C.downVol);

// horizontal fib levels
function fibGroup(list, color, from) {
  const g = gM.append("g");
  g.selectAll("line").data(list).join("line")
    .attr("x1", xi(from)).attr("x2", plotR).attr("y1", d => y(d.price)).attr("y2", d => y(d.price))
    .attr("stroke", color).attr("stroke-width", 2.5);
  g.selectAll("text").data(list).join("text")
    .attr("x", 2748).attr("y", d => y(d.price) - 7).attr("text-anchor", "end")
    .attr("fill", color).attr("font-size", 20.5)
    .text(d => `${d.ratio}(${d.price.toFixed(2)})`);
}
fibGroup(fibRed, C.red, -2);
fibGroup(fibOrange, C.orange, fibOrangeFrom);
fibGroup(fibGreen, C.green, fibGreenFrom);

// moving averages
const maLine = d3.line().x(d => xi(d[0])).y(d => y(d[1])).curve(d3.curveMonotoneX);
[[maSlow, C.maSlow, 2.5], [maLong, C.maLong, 6.5], [maMid, C.maMid, 5], [maFast, C.maFast, 5]].forEach(([data, col, w]) => {
  gM.append("path").datum(data).attr("d", maLine).attr("fill", "none")
    .attr("stroke", col).attr("stroke-width", w).attr("stroke-linejoin", "round");
});

// horizontal levels
levels.forEach(l => {
  const s = levelStyle[l.key];
  gM.append("line").attr("x1", xi(l.from - 2)).attr("x2", plotR).attr("y1", y(l.price)).attr("y2", y(l.price))
    .attr("stroke", s.line).attr("stroke-width", s.w);
});
gM.append("text").attr("x", 2752).attr("y", y(2036) - 9).attr("text-anchor", "end")
  .attr("fill", "#8f929b").attr("font-weight", "bold").attr("font-size", 19).text(levels[0].note);
gM.append("text").attr("x", 2752).attr("y", y(1711.82) - 9).attr("text-anchor", "end")
  .attr("fill", "#8f929b").attr("font-size", 19).text(levels[4].note);

// trend lines
trendSolid.forEach(t => {
  gM.append("line").attr("x1", xi(t.a[0])).attr("y1", y(t.a[1])).attr("x2", xi(t.b[0])).attr("y2", y(t.b[1]))
    .attr("stroke", "#ffffff").attr("stroke-width", t.key === "asc" ? 2.2 : 4.5);
});
trendDashed.forEach(t => {
  gM.append("line").attr("x1", xi(t.a[0])).attr("y1", y(t.a[1])).attr("x2", xi(t.b[0])).attr("y2", y(t.b[1]))
    .attr("stroke", "#ffffff").attr("stroke-width", 2.5).attr("stroke-dasharray", "10 9");
});

// candles
const cw = 9.6;
const gc = gM.append("g").selectAll("g").data(candles).join("g")
  .attr("fill", d => d[3] >= d[0] ? C.up : C.down)
  .attr("stroke", d => d[3] >= d[0] ? C.up : C.down);
gc.append("line").attr("x1", (d, i) => xi(i)).attr("x2", (d, i) => xi(i))
  .attr("y1", d => y(d[1])).attr("y2", d => y(d[2])).attr("stroke-width", 2);
gc.append("rect").attr("stroke", "none")
  .attr("x", (d, i) => xi(i) - cw / 2).attr("width", cw)
  .attr("y", d => y(Math.max(d[0], d[3])))
  .attr("height", d => Math.max(2, Math.abs(y(d[0]) - y(d[3]))));

// crosshair
svg.append("line").attr("x1", xi(crossIndex)).attr("x2", xi(crossIndex)).attr("y1", pMain.top).attr("y2", timeTop + 8)
  .attr("stroke", "#b7bac2").attr("stroke-width", 2);
svg.append("line").attr("x1", plotL).attr("x2", plotR).attr("y1", yRsi(crossRsi)).attr("y2", yRsi(crossRsi))
  .attr("stroke", "#ffffff").attr("stroke-width", 3);

// ---- separators, axis border ----
const sep = svg.append("g").attr("stroke", "#2e323e").attr("stroke-width", 3);
[pMain.bottom + 1, pRsi.bottom + 1, pStoch.bottom + 1].forEach(v => sep.append("line").attr("x1", 12).attr("x2", 2895).attr("y1", v).attr("y2", v));
sep.append("line").attr("x1", axisX).attr("x2", axisX).attr("y1", 86).attr("y2", frameBottom);

// ---- price axes ----
function rightAxis(scale, values, fmt) {
  const g = svg.append("g").attr("transform", `translate(${axisX},0)`)
    .call(d3.axisRight(scale).tickValues(values).tickFormat(fmt).tickSize(10).tickPadding(11));
  g.select(".domain").remove();
  g.selectAll(".tick line").attr("stroke", "#3a3e4a").attr("stroke-width", 2);
  g.selectAll(".tick text").attr("fill", C.text).attr("font-size", 20).attr("font-family", "'DejaVu Sans', sans-serif");
  return g;
}
const f2 = d3.format(".2f");
rightAxis(y, priceTicks, f2);
rightAxis(yRsi, rsiTicks, f2);
rightAxis(yStoch, stochTicks, f2);

function tag(yPos, label, fill, txt, w = 117) {
  const g = svg.append("g");
  g.append("rect").attr("x", axisX).attr("y", yPos - 16).attr("width", w).attr("height", 32).attr("rx", 3).attr("fill", fill);
  g.append("line").attr("x1", axisX).attr("x2", axisX + 10).attr("y1", yPos).attr("y2", yPos).attr("stroke", txt).attr("stroke-width", 2);
  g.append("text").attr("x", axisX + 21).attr("y", yPos).attr("dy", "0.36em").attr("fill", txt).attr("font-size", 20).text(label);
}
levels.forEach(l => { const s = levelStyle[l.key]; tag(y(l.price), f2(l.price), s.tag, s.txt); });
tag(y(lastPrice), f2(lastPrice), C.down, "#ffffff");
tag(yRsi(crossRsi), f2(crossRsi), "#ffffff", "#131722", 90);

// USD box
svg.append("rect").attr("x", 2803).attr("y", 101).attr("width", 54).attr("height", 36).attr("rx", 5)
  .attr("fill", C.pane).attr("stroke", "#434651").attr("stroke-width", 2);
svg.append("text").attr("x", 2830).attr("y", 119).attr("dy", "0.36em").attr("text-anchor", "middle")
  .attr("fill", C.light).attr("font-size", 19).text("USD");

// ---- time axis ----
const ta = svg.append("g").attr("transform", `translate(0,${timeTop})`)
  .call(d3.axisBottom(x).tickValues(tickDates).tickFormat((d, i) => dayTicks[i][1]).tickSize(0).tickPadding(22));
ta.select(".domain").remove();
ta.selectAll("text").attr("fill", C.text).attr("font-size", 20).attr("font-family", "'DejaVu Sans', sans-serif");

const cx = xi(crossIndex);
svg.append("rect").attr("x", cx - 108).attr("y", timeTop).attr("width", 216).attr("height", 47).attr("fill", "#c6c8cd");
svg.append("line").attr("x1", cx).attr("x2", cx).attr("y1", timeTop).attr("y2", timeTop + 9).attr("stroke", "#131722").attr("stroke-width", 2);
svg.append("text").attr("x", cx - 93).attr("y", timeTop + 36).attr("fill", "#131722").attr("font-size", 20)
  .text("01 Jul '21");
svg.append("text").attr("x", cx + 33).attr("y", timeTop + 36).attr("fill", "#131722").attr("font-size", 20)
  .text("01:00");

// frame
svg.append("rect").attr("x", 12).attr("y", 86).attr("width", 2883).attr("height", frameBottom - 86)
  .attr("fill", "none").attr("stroke", "#05070b").attr("stroke-width", 3);

// ---- header ----
const hdr = svg.append("g").attr("font-family", "Roboto, sans-serif").attr("font-size", 23).attr("fill", C.light);
const h1 = hdr.append("text").attr("x", 14).attr("y", 32).attr("textLength", 759).attr("lengthAdjust", "spacingAndGlyphs");
h1.append("tspan").attr("font-weight", "bold").text("YazTCM");
h1.append("tspan").text(" published on TradingView.com, July 28, 2021 15:44:07 BST");
const seg = [
  [14, "BITFINEX:ETHUSD, 240", true, C.light, 258], [285, "2284.00", false, C.light, 88], [380, "▼", false, C.down, 18],
  [409, "−20.30 (−0.88%)", false, C.light, 180], [597, "O:", true, C.light, 26], [627, "2331.90", false, C.down, 91],
  [727, "H:", true, C.light, 27], [757, "2334.10", false, C.down, 88], [855, "L:", true, C.light, 21],
  [880, "2271.02", false, C.down, 88], [978, "C:", true, C.light, 21], [1001, "2284.30", false, C.down, 87]
];
seg.forEach(([sx, s, b, col, len]) => {
  hdr.append("text").attr("x", sx).attr("y", 67).attr("fill", col).attr("font-weight", b ? "bold" : "normal")
    .attr("textLength", len).attr("lengthAdjust", "spacingAndGlyphs").text(s);
});

// ---- TradingView logo ----
const logo = svg.append("g").attr("fill", C.light);
logo.append("path").attr("d", "M15,1836 H37 V1861 H28 V1845 H15 Z");
logo.append("circle").attr("cx", 44).attr("cy", 1841).attr("r", 4.5);
logo.append("path").attr("d", "M50,1836 H60 L51,1861 H41 Z");
logo.append("text").attr("x", 66).attr("y", 1858).attr("font-family", "Roboto, sans-serif").attr("font-weight", 500)
  .attr("font-size", 30).attr("textLength", 184).attr("lengthAdjust", "spacingAndGlyphs").text("TradingView");
</script>
</body>
</html>
